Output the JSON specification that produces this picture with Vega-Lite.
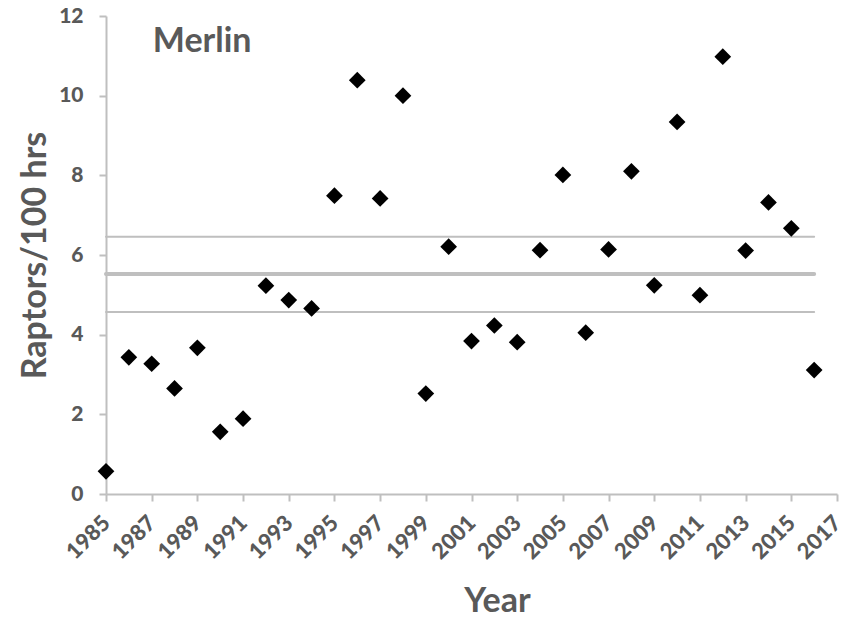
{
  "$schema": "https://vega.github.io/schema/vega-lite/v6.json",
  "width": 731,
  "height": 478,
  "autosize": {"type": "none"},
  "padding": {"left": 106, "top": 16, "right": 9, "bottom": 125},
  "background": "white",
  "config": {
    "view": {"stroke": null},
    "font": "Lato",
    "axis": {
      "grid": false,
      "domainColor": "#bfbfbf",
      "domainWidth": 2,
      "tickColor": "#bfbfbf",
      "tickWidth": 2,
      "tickSize": 7,
      "labelColor": "#595959",
      "labelFont": "Lato",
      "labelFontWeight": 900,
      "labelFontSize": 21,
      "titleColor": "#595959",
      "titleFont": "Lato",
      "titleFontWeight": "bold",
      "titleFontSize": 34
    }
  },
  "datasets": {
    "counts": [
      {"Year": 1985, "Rate": 0.57},
      {"Year": 1986, "Rate": 3.43},
      {"Year": 1987, "Rate": 3.27},
      {"Year": 1988, "Rate": 2.65},
      {"Year": 1989, "Rate": 3.67},
      {"Year": 1990, "Rate": 1.56},
      {"Year": 1991, "Rate": 1.89},
      {"Year": 1992, "Rate": 5.23},
      {"Year": 1993, "Rate": 4.87},
      {"Year": 1994, "Rate": 4.66},
      {"Year": 1995, "Rate": 7.49},
      {"Year": 1996, "Rate": 10.39},
      {"Year": 1997, "Rate": 7.42},
      {"Year": 1998, "Rate": 10.0},
      {"Year": 1999, "Rate": 2.52},
      {"Year": 2000, "Rate": 6.21},
      {"Year": 2001, "Rate": 3.84},
      {"Year": 2002, "Rate": 4.23},
      {"Year": 2003, "Rate": 3.81},
      {"Year": 2004, "Rate": 6.12},
      {"Year": 2005, "Rate": 8.01},
      {"Year": 2006, "Rate": 4.05},
      {"Year": 2007, "Rate": 6.14},
      {"Year": 2008, "Rate": 8.10},
      {"Year": 2009, "Rate": 5.24},
      {"Year": 2010, "Rate": 9.34},
      {"Year": 2011, "Rate": 4.99},
      {"Year": 2012, "Rate": 10.98},
      {"Year": 2013, "Rate": 6.11},
      {"Year": 2014, "Rate": 7.32},
      {"Year": 2015, "Rate": 6.67},
      {"Year": 2016, "Rate": 3.11}
    ],
    "levels": [
      {"kind": "upper", "value": 6.46},
      {"kind": "mean", "value": 5.52},
      {"kind": "lower", "value": 4.57}
    ],
    "label": [
      {"name": "Merlin"}
    ]
  },
  "layer": [
    {
      "data": {"name": "levels"},
      "mark": {"type": "rule", "color": "#bfbfbf", "strokeCap": "round"},
      "encoding": {
        "x": {"datum": 1985, "type": "quantitative"},
        "x2": {"datum": 2016},
        "y": {"field": "value", "type": "quantitative"},
        "strokeWidth": {
          "condition": {"test": "datum.kind === 'mean'", "value": 4},
          "value": 2
        }
      }
    },
    {
      "data": {"name": "counts"},
      "mark": {"type": "point", "shape": "diamond", "filled": true, "color": "black", "opacity": 1, "size": 280},
      "encoding": {
        "x": {
          "field": "Year",
          "type": "quantitative",
          "scale": {"domain": [1985, 2017], "nice": false, "zero": false},
          "axis": {
            "title": "Year",
            "values": [1985, 1987, 1989, 1991, 1993, 1995, 1997, 1999, 2001, 2003, 2005, 2007, 2009, 2011, 2013, 2015, 2017],
            "format": "d",
            "labelAngle": -45,
            "labelAlign": "right",
            "labelBaseline": "middle",
            "labelFontSize": 22,
            "labelPadding": 18,
            "titlePadding": 22,
            "titleX": 391,
            "labelOverlap": false,
            "labelBound": false
          }
        },
        "y": {
          "field": "Rate",
          "type": "quantitative",
          "scale": {"domain": [0, 12], "nice": false},
          "axis": {
            "title": "Raptors/100 hrs",
            "values": [0, 2, 4, 6, 8, 10, 12],
            "labelPadding": 16,
            "titlePadding": 6
          }
        }
      }
    },
    {
      "data": {"name": "label"},
      "mark": {"type": "text", "font": "Lato", "fontWeight": "bold", "fontSize": 34, "color": "#595959", "align": "left", "baseline": "alphabetic"},
      "encoding": {
        "text": {"field": "name"},
        "x": {"datum": 1987.05, "type": "quantitative"},
        "y": {"datum": 11.1, "type": "quantitative"}
      }
    }
  ]
}
